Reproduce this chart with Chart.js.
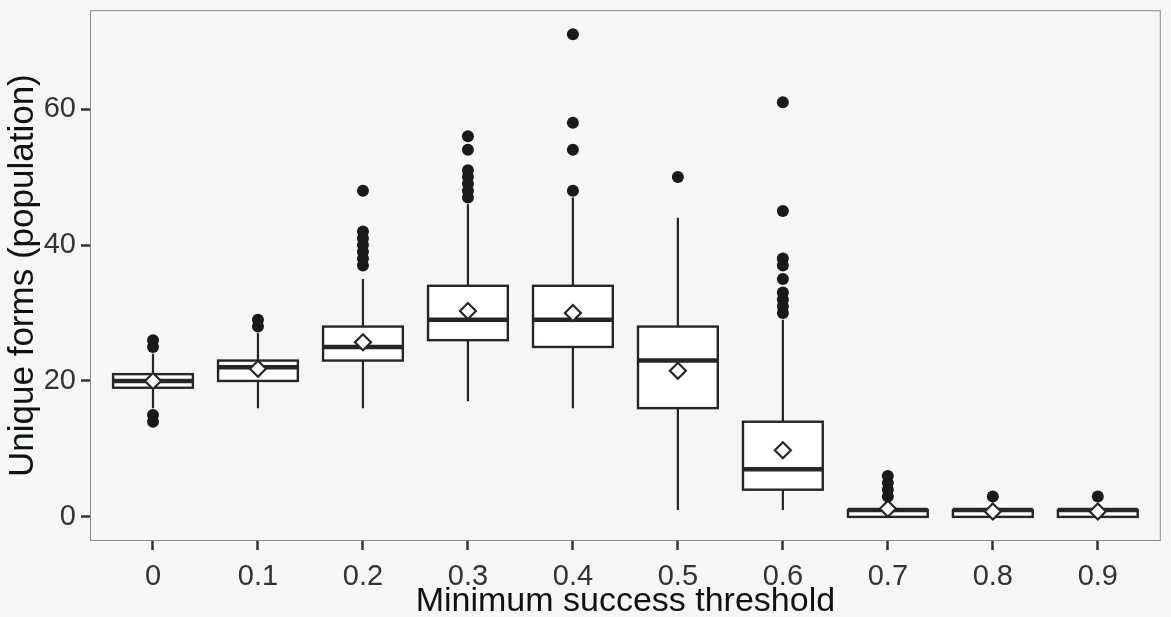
<!DOCTYPE html>
<html>
<head>
<meta charset="utf-8">
<script src="https://cdn.jsdelivr.net/npm/chart.js@4.4.0/dist/chart.umd.min.js"></script>
<style>
    html, body { margin: 0; padding: 0; background: #f5f6f8; }
    canvas { display: block; }
</style>
</head>
<body>
<canvas id="chart" width="1171" height="617"></canvas>
<script>
// Minimum success threshold categories
const thresholds = ['0', '0.1', '0.2', '0.3', '0.4', '0.5', '0.6', '0.7', '0.8', '0.9'];

// Box statistics
const whiskerLow  = [16, 16, 16, 17, 16, 1, 1, 0, 0, 0];
const quartile1   = [19, 20, 23, 26, 25, 16, 4, 0, 0, 0];
const medians     = [20, 22, 25, 29, 29, 23, 7, 1, 1, 1];
const quartile3   = [21, 23, 28, 34, 34, 28, 14, 1, 1, 1];
const whiskerHigh = [24, 27, 35, 46, 47, 44, 29, 2, 2, 2];
const means       = [20, 21.8, 25.7, 30.3, 30, 21.5, 9.8, 1.2, 0.8, 0.8];

// Outliers per category
const outliers = [
    [14, 15, 25, 26],
    [28, 29],
    [37, 38, 39, 40, 41, 42, 48],
    [47, 48, 49, 50, 51, 54, 56],
    [48, 54, 58, 71],
    [50],
    [30, 31, 32, 33, 35, 37, 38, 45, 61],
    [3, 4, 5, 6],
    [3],
    [3]
];

const yTicks = [0, 20, 40, 60];

const BOX_WIDTH = 0.76;
const INK = '#262626';
const FONT = 'Liberation Sans, Arial, sans-serif';

const outlierPoints = [];
outliers.forEach((list, i) => {
    list.forEach(v => outlierPoints.push({ x: i, y: v }));
});
const meanPoints = means.map((m, i) => ({ x: i, y: m }));

// Draws the panel border, whiskers, boxes and medians from the chart scales
const boxPlugin = {
    id: 'boxes',
    beforeDatasetsDraw(chart) {
        const { ctx, chartArea, scales: { x, y } } = chart;
        ctx.save();

        ctx.strokeStyle = '#8a8a8a';
        ctx.lineWidth = 1;
        ctx.strokeRect(chartArea.left + 0.5, chartArea.top + 0.5,
            chartArea.right - chartArea.left - 1, chartArea.bottom - chartArea.top - 1);

        ctx.strokeStyle = INK;
        thresholds.forEach((t, i) => {
            const cx = x.getPixelForValue(i);
            const left = x.getPixelForValue(i - BOX_WIDTH / 2);
            const right = x.getPixelForValue(i + BOX_WIDTH / 2);
            const yLow = y.getPixelForValue(whiskerLow[i]);
            const yQ1 = y.getPixelForValue(quartile1[i]);
            const yMed = y.getPixelForValue(medians[i]);
            const yQ3 = y.getPixelForValue(quartile3[i]);
            const yHigh = y.getPixelForValue(whiskerHigh[i]);

            // whiskers
            ctx.lineWidth = 2.2;
            ctx.beginPath();
            ctx.moveTo(cx, yLow);
            ctx.lineTo(cx, yQ1);
            ctx.moveTo(cx, yQ3);
            ctx.lineTo(cx, yHigh);
            ctx.stroke();

            // box
            ctx.fillStyle = '#ffffff';
            ctx.fillRect(left, yQ3, right - left, yQ1 - yQ3);
            ctx.lineWidth = 2.4;
            ctx.strokeRect(left, yQ3, right - left, yQ1 - yQ3);

            // median
            ctx.lineWidth = 4.5;
            ctx.beginPath();
            ctx.moveTo(left, yMed);
            ctx.lineTo(right, yMed);
            ctx.stroke();
        });
        ctx.restore();
    }
};

const ctx = document.getElementById('chart');
new Chart(ctx, {
    type: 'scatter',
    data: {
        datasets: [
            {
                label: 'Outliers',
                data: outlierPoints,
                pointStyle: 'circle',
                pointRadius: 6,
                pointBackgroundColor: '#1a1a1a',
                pointBorderColor: '#1a1a1a',
                pointBorderWidth: 0
            },
            {
                label: 'Mean',
                data: meanPoints,
                pointStyle: 'rectRot',
                pointRadius: 8,
                pointBackgroundColor: '#ffffff',
                pointBorderColor: INK,
                pointBorderWidth: 2.2
            }
        ]
    },
    options: {
        responsive: false,
        animation: false,
        layout: { padding: { top: 10, right: 8, left: 0, bottom: 0 } },
        plugins: {
            legend: { display: false },
            tooltip: { enabled: false }
        },
        scales: {
            x: {
                type: 'linear',
                min: -0.6,
                max: 9.6,
                afterBuildTicks: (scale) => {
                    scale.ticks = thresholds.map((t, i) => ({ value: i }));
                },
                afterFit: (scale) => {
                    scale.height = 76;
                    scale.paddingLeft = 0;
                    scale.paddingRight = 0;
                },
                ticks: {
                    autoSkip: false,
                    maxRotation: 0,
                    padding: 10,
                    color: '#333333',
                    font: { family: FONT, size: 29 },
                    callback: (value) => thresholds[value]
                },
                grid: {
                    drawOnChartArea: false,
                    drawTicks: true,
                    tickLength: 9,
                    tickWidth: 2.5,
                    tickColor: '#333333'
                },
                border: { display: false },
                title: {
                    display: true,
                    text: 'Minimum success threshold',
                    color: '#111111',
                    padding: { top: 0, bottom: -5 },
                    font: { family: FONT, size: 34 }
                }
            },
            y: {
                min: -3.55,
                max: 74.55,
                afterBuildTicks: (scale) => {
                    scale.ticks = yTicks.map(v => ({ value: v }));
                },
                afterFit: (scale) => {
                    scale.width = 90;
                    scale.paddingTop = 0;
                    scale.paddingBottom = 0;
                },
                ticks: {
                    padding: 5,
                    color: '#333333',
                    font: { family: FONT, size: 29 }
                },
                grid: {
                    drawOnChartArea: false,
                    drawTicks: true,
                    tickLength: 9,
                    tickWidth: 2.5,
                    tickColor: '#333333'
                },
                border: { display: false },
                title: {
                    display: true,
                    text: 'Unique forms (population)',
                    color: '#111111',
                    padding: { top: 2, bottom: 0 },
                    font: { family: FONT, size: 35 }
                }
            }
        }
    },
    plugins: [boxPlugin]
});
</script>
</body>
</html>
